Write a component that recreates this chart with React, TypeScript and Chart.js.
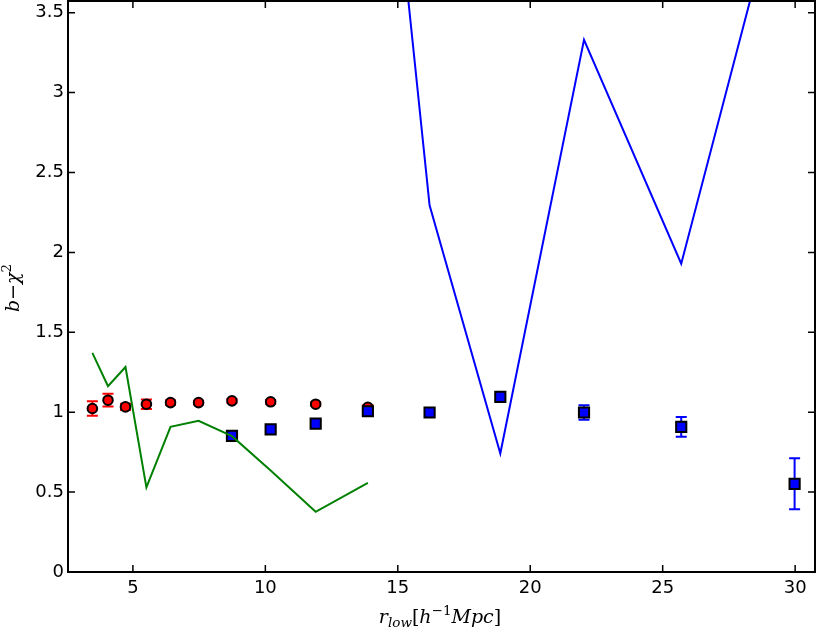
import { useEffect, useRef } from "react";
import { Chart, registerables } from "chart.js";

Chart.register(...registerables);

// red circles (with red error bars)
const circleX = [3.47, 4.06, 4.72, 5.51, 6.42, 7.48, 8.74, 10.2, 11.9, 13.87];
const circleY = [1.023, 1.075, 1.033, 1.05, 1.06, 1.06, 1.071, 1.065, 1.05, 1.03];
const circleErr = [0.045, 0.04, 0.02, 0.03, 0.015, 0.012, 0.012, 0.012, 0.012, 0.015];

// blue squares (with blue error bars)
const squareX = [8.74, 10.2, 11.9, 13.87, 16.2, 18.87, 22.03, 25.7, 29.98];
const squareY = [0.852, 0.892, 0.929, 1.006, 0.998, 1.096, 0.998, 0.908, 0.552];
const squareErr = [0.01, 0.012, 0.012, 0.02, 0.015, 0.015, 0.045, 0.062, 0.16];

// green line
const greenX = [3.47, 4.06, 4.72, 5.51, 6.42, 7.48, 8.74, 10.2, 11.9, 13.87];
const greenY = [1.371, 1.1625, 1.283, 0.529, 0.908, 0.946, 0.85, 0.635, 0.377, 0.558];

// blue line
const blueX = [13.87, 16.2, 18.87, 22.03, 25.7, 29.98];
const blueY = [6.02, 2.294, 0.742, 3.33, 1.929, 4.64];

const xTicks = [5, 10, 15, 20, 25, 30];
const yTicks = [0, 0.5, 1, 1.5, 2, 2.5, 3, 3.5];

const pts = (xs: number[], ys: number[]) => xs.map((x, i) => ({ x, y: ys[i] }));

type Run = { t: string; italic: boolean; size: number; dy: number };

const fontOf = (r: Run) =>
    `${r.italic ? "italic " : ""}${r.size}px "DejaVu Serif", serif`;

function drawRuns(ctx: CanvasRenderingContext2D, runs: Run[], cx: number, baseline: number) {
    let total = 0;
    runs.forEach((r) => {
        ctx.font = fontOf(r);
        total += ctx.measureText(r.t).width;
    });
    let x = cx - total / 2;
    ctx.textAlign = "left";
    ctx.textBaseline = "alphabetic";
    runs.forEach((r) => {
        ctx.font = fontOf(r);
        ctx.fillText(r.t, x, baseline + r.dy);
        x += ctx.measureText(r.t).width;
    });
}

const xTitle: Run[] = [
    { t: "r", italic: true, size: 19, dy: 0 },
    { t: "low", italic: true, size: 13.5, dy: 4 },
    { t: "[", italic: false, size: 19, dy: 0 },
    { t: "h", italic: true, size: 19, dy: 0 },
    { t: "\u22121", italic: false, size: 13.5, dy: -8 },
    { t: "Mpc", italic: true, size: 19, dy: 0 },
    { t: "]", italic: false, size: 19, dy: 0 },
];

const yTitle: Run[] = [
    { t: "b", italic: true, size: 19, dy: 0 },
    { t: "\u2212", italic: false, size: 19, dy: 0 },
    { t: "\u03c7", italic: true, size: 19, dy: 0 },
    { t: "2", italic: false, size: 13.5, dy: -8 },
];

const errorBars = {
    id: "errorBars",
    beforeDatasetDraw(chart: any, args: any) {
        const ds = chart.data.datasets[args.index];
        if (!ds.errors) return;
        const { ctx, scales } = chart;
        ctx.save();
        ctx.strokeStyle = ds.errorColor;
        ctx.lineWidth = 2;
        ds.data.forEach((p: { x: number; y: number }, i: number) => {
            const e = ds.errors[i];
            const px = scales.x.getPixelForValue(p.x);
            const top = scales.y.getPixelForValue(p.y + e);
            const bot = scales.y.getPixelForValue(p.y - e);
            ctx.beginPath();
            ctx.moveTo(px, top);
            ctx.lineTo(px, bot);
            ctx.moveTo(px - 5.5, top);
            ctx.lineTo(px + 5.5, top);
            ctx.moveTo(px - 5.5, bot);
            ctx.lineTo(px + 5.5, bot);
            ctx.stroke();
        });
        ctx.restore();
    },
};

const frame = {
    id: "frame",
    afterDraw(chart: any) {
        const { ctx, chartArea: a, scales } = chart;
        ctx.save();
        ctx.strokeStyle = "#000";
        ctx.lineWidth = 1.5;
        ctx.beginPath();
        xTicks.forEach((v) => {
            const px = scales.x.getPixelForValue(v);
            ctx.moveTo(px, a.bottom);
            ctx.lineTo(px, a.bottom - 7);
            ctx.moveTo(px, a.top);
            ctx.lineTo(px, a.top + 7);
        });
        yTicks.forEach((v) => {
            const py = scales.y.getPixelForValue(v);
            ctx.moveTo(a.left, py);
            ctx.lineTo(a.left + 7, py);
            ctx.moveTo(a.right, py);
            ctx.lineTo(a.right - 7, py);
        });
        ctx.stroke();
        ctx.lineWidth = 2;
        ctx.strokeRect(a.left, a.top, a.right - a.left, a.bottom - a.top);

        ctx.fillStyle = "#000";
        drawRuns(ctx, xTitle, 440, 623);
        ctx.translate(19, 288);
        ctx.rotate(-Math.PI / 2);
        drawRuns(ctx, yTitle, 0, 0);
        ctx.restore();
    },
};

const noPadding = (s: any) => {
    s.paddingTop = 0;
    s.paddingBottom = 0;
    s.paddingLeft = 0;
    s.paddingRight = 0;
};

const App = () => {
    const chartRef = useRef<HTMLCanvasElement | null>(null);
    const chartInstanceRef = useRef<Chart | null>(null);

    useEffect(() => {
        document.body.style.margin = "0";
        if (!chartRef.current) return;
        const ctx = chartRef.current.getContext("2d");
        if (!ctx) return;
        if (chartInstanceRef.current) chartInstanceRef.current.destroy();

        const tickFont = { family: "DejaVu Sans", size: 18 };

        chartInstanceRef.current = new Chart(ctx, {
            type: "scatter",
            data: {
                datasets: [
                    {
                        data: pts(greenX, greenY),
                        showLine: true,
                        borderColor: "#008000",
                        borderWidth: 2,
                        pointRadius: 0,
                        fill: false,
                    },
                    {
                        data: pts(blueX, blueY),
                        showLine: true,
                        borderColor: "#0000ff",
                        borderWidth: 2,
                        pointRadius: 0,
                        fill: false,
                    },
                    {
                        data: pts(squareX, squareY),
                        errors: squareErr,
                        errorColor: "#0000ff",
                        pointStyle: "rect",
                        pointRadius: 7.2,
                        pointBackgroundColor: "#0000ff",
                        pointBorderColor: "#000",
                        pointBorderWidth: 2,
                    } as any,
                    {
                        data: pts(circleX, circleY),
                        errors: circleErr,
                        errorColor: "#ff0000",
                        pointStyle: "circle",
                        pointRadius: 4.8,
                        pointBackgroundColor: "#ff0000",
                        pointBorderColor: "#000",
                        pointBorderWidth: 2,
                    } as any,
                ],
            },
            options: {
                animation: false,
                responsive: false,
                events: [],
                layout: {
                    autoPadding: false,
                    padding: { top: 1, right: 2, left: 0, bottom: 0 },
                },
                plugins: {
                    legend: { display: false },
                    tooltip: { enabled: false },
                },
                scales: {
                    x: {
                        type: "linear",
                        min: 2.55,
                        max: 30.75,
                        grid: { display: false, drawTicks: false },
                        border: { display: false },
                        afterBuildTicks: (s: any) => {
                            s.ticks = xTicks.map((v) => ({ value: v }));
                        },
                        afterFit: (s: any) => {
                            s.height = 59;
                            noPadding(s);
                        },
                        ticks: {
                            color: "#000",
                            font: tickFont,
                            padding: 6,
                            maxRotation: 0,
                            autoSkip: false,
                            callback: (v: any) => String(v),
                        },
                    },
                    y: {
                        type: "linear",
                        min: 0,
                        max: 3.573,
                        grid: { display: false, drawTicks: false },
                        border: { display: false },
                        afterBuildTicks: (s: any) => {
                            s.ticks = yTicks.map((v) => ({ value: v }));
                        },
                        afterFit: (s: any) => {
                            s.width = 68;
                            noPadding(s);
                        },
                        ticks: {
                            color: "#000",
                            font: tickFont,
                            padding: 4,
                            autoSkip: false,
                            callback: (v: any) => String(v),
                        },
                    },
                },
            },
            plugins: [errorBars, frame],
        });

        return () => {
            if (chartInstanceRef.current) {
                chartInstanceRef.current.destroy();
                chartInstanceRef.current = null;
            }
        };
    }, []);

    return <canvas ref={chartRef} width={817} height={631} style={{ display: "block" }} />;
};

export default App;
